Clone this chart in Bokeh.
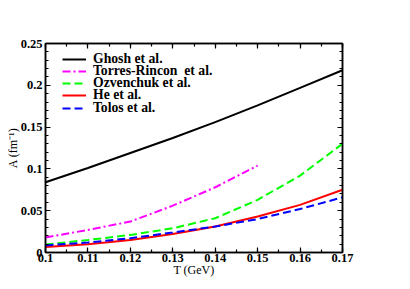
from bokeh.plotting import figure
from bokeh.models import LinearAxis, FixedTicker, Range1d, Legend, LegendItem
from bokeh.embed import file_html
from bokeh.resources import INLINE

# ---- data ----
T = [0.10, 0.11, 0.12, 0.13, 0.14, 0.15, 0.16, 0.17]
ghosh = [0.084, 0.101, 0.119, 0.137, 0.156, 0.176, 0.197, 0.218]
T_torres = [0.10, 0.11, 0.12, 0.13, 0.14, 0.15]
torres = [0.018, 0.027, 0.037, 0.056, 0.078, 0.104]
ozvenchuk = [0.0095, 0.015, 0.021, 0.029, 0.041, 0.063, 0.092, 0.130]
he = [0.0065, 0.010, 0.015, 0.022, 0.031, 0.043, 0.057, 0.075]
tolos = [0.0085, 0.012, 0.017, 0.024, 0.031, 0.040, 0.052, 0.066]

series_names = ["Ghosh et al.", "Torres-Rincon  et al.", "Ozvenchuk et al.", "He et al.", "Tolos et al."]

x_ticks = [0.10, 0.11, 0.12, 0.13, 0.14, 0.15, 0.16, 0.17]
x_tick_labels = ["0.1", "0.11", "0.12", "0.13", "0.14", "0.15", "0.16", "0.17"]
y_ticks = [0.0, 0.05, 0.10, 0.15, 0.20, 0.25]
y_tick_labels = ["0", "0.05", "0.1", "0.15", "0.2", "0.25"]
x_minor = [round(0.1 + 0.005 * i, 4) for i in range(15)]
y_minor = [round(0.01 * i, 4) for i in range(26)]

x_title = "T (GeV)"
y_title = "A (fm\u207b\u00b9)"

SERIF = "Liberation Serif"
FW, FH = 297, 209

p = figure(frame_width=FW, frame_height=FH, output_backend="svg", toolbar_location=None,
           x_range=Range1d(0.1, 0.17), y_range=Range1d(0.0, 0.25),
           min_border_left=45, min_border_top=43, min_border_right=52, min_border_bottom=30)
p.xgrid.visible = False
p.ygrid.visible = False
p.outline_line_color = "black"
p.outline_line_width = 1.5
p.background_fill_color = "white"
p.border_fill_color = "white"

xt = FixedTicker(ticks=x_ticks, minor_ticks=x_minor)
yt = FixedTicker(ticks=y_ticks, minor_ticks=y_minor)

def style_axis(ax):
    ax.axis_line_color = "black"
    ax.axis_line_width = 1.5
    ax.major_tick_in = 5
    ax.major_tick_out = 0
    ax.minor_tick_in = 3
    ax.minor_tick_out = 0
    ax.major_tick_line_width = 1.2
    ax.minor_tick_line_width = 1.2
    ax.major_label_text_font = SERIF
    ax.major_label_text_font_style = "bold"
    ax.major_label_text_font_size = "12.5px"
    ax.major_label_text_color = "black"
    ax.axis_label_text_font = SERIF
    ax.axis_label_text_font_style = "normal"
    ax.axis_label_text_font_size = "12px"
    ax.axis_label_text_color = "black"

xa = p.xaxis[0]
xa.ticker = xt
xa.major_label_overrides = {t: l for t, l in zip(x_ticks, x_tick_labels)}
style_axis(xa)
xa.axis_label = x_title
xa.major_label_standoff = 1
xa.axis_label_standoff = -2

ya = p.yaxis[0]
ya.ticker = yt
ya.major_label_overrides = {t: l for t, l in zip(y_ticks, y_tick_labels)}
style_axis(ya)
ya.axis_label = y_title
ya.major_label_standoff = 3
ya.axis_label_standoff = -2

ra = LinearAxis(ticker=yt, major_label_overrides={t: "" for t in y_ticks})
style_axis(ra)
ra.major_label_standoff = 0
p.add_layout(ra, "right")
ta = LinearAxis(ticker=xt, major_label_overrides={t: "" for t in x_ticks})
style_axis(ta)
ta.major_label_standoff = 0
p.add_layout(ta, "above")

r1 = p.line(T, ghosh, line_color="black", line_width=2)
r2 = p.line(T_torres, torres, line_color="#ff00ff", line_width=2, line_dash="8 3 2 3")
r3 = p.line(T, ozvenchuk, line_color="#00ff00", line_width=2, line_dash="8 4")
r4 = p.line(T, he, line_color="#ff0000", line_width=2)
r5 = p.line(T, tolos, line_color="#0000ff", line_width=2, line_dash="8 4")

LEG_FONT = 13.7
ROW_H = 1.277 * LEG_FONT
for i, (n, r) in enumerate(zip(series_names, [r1, r2, r3, r4, r5])):
    center_from_top = 15 + 12.2 * i
    lg = Legend(items=[LegendItem(label=n, renderers=[r])],
                location=(17, FH - center_from_top - ROW_H / 2))
    lg.border_line_color = None
    lg.background_fill_alpha = 0
    lg.padding = 0
    lg.margin = 0
    lg.spacing = 0
    lg.label_height = 12
    lg.glyph_height = 12
    lg.glyph_width = 24
    lg.label_standoff = 7
    lg.label_text_font = SERIF
    lg.label_text_font_style = "bold"
    lg.label_text_font_size = f"{LEG_FONT}px"
    lg.label_text_color = "black"
    p.add_layout(lg)

open("out.html", "w").write(file_html(p, INLINE))
